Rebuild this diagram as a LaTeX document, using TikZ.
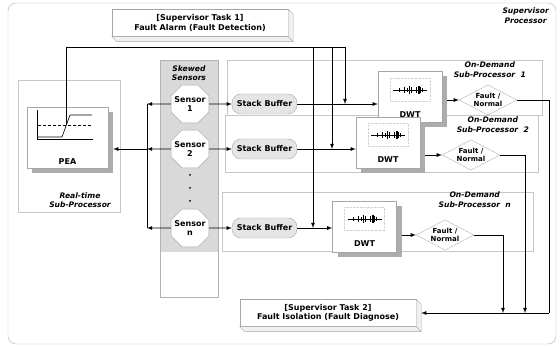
\documentclass[tikz,border=0pt]{standalone}
\usepackage{fontspec}
\setmainfont{DejaVu Sans}
\usetikzlibrary{positioning,shapes.geometric,shadows,calc}
\tikzset{
  task/.style={rectangle, draw=gray!70, fill=white, minimum width=176pt, minimum height=27pt, inner sep=1pt, align=center},
  subproc/.style={rectangle, draw=gray!45, inner sep=0pt, outer sep=0pt},
  sensor/.style={regular polygon, regular polygon sides=8, draw=gray!70, fill=white, minimum size=41pt, inner sep=-4pt, align=center},
  buffer/.style={rectangle, rounded corners=9pt, draw=gray!70, fill=gray!20, minimum width=65pt, minimum height=20pt, inner sep=1pt},
  dwtbox/.style={rectangle, draw=gray!70, fill=white, minimum width=64pt, minimum height=51pt,
    drop shadow={shadow xshift=5pt, shadow yshift=-5pt, fill=gray!65, opacity=1}},
  decide/.style={diamond, aspect=1.9, draw=gray!60, fill=white, inner sep=0.8pt, align=center,
    font=\bfseries\fontsize{7}{7.5}\selectfont},
  tag/.style={font=\bfseries\itshape\fontsize{7.6}{9.6}\selectfont, align=center, inner sep=0pt},
}

\begin{document}
\begin{tikzpicture}[x=1pt, y=-1pt, >=latex,
  font=\bfseries\fontsize{8}{9.4}\selectfont]
  \useasboundingbox (0,0) rectangle (560,347);
  \draw[gray!60, rounded corners=8pt] (8,3) rectangle (556,344);

  % frames behind everything
  \node[subproc, minimum width=102pt, minimum height=132pt] (rtp) at (69,146) {};
  \fill[gray!30] (160,60) rectangle (218,252);
  \node[subproc, draw=gray!60, minimum width=58pt, minimum height=237pt] (col) at (189,178.5) {};
  \node[subproc, minimum width=315pt, minimum height=55pt] (sp1) at (384.5,87.5) {};
  \node[subproc, minimum width=313pt, minimum height=57pt] (sp2) at (381.5,143.5) {};
  \node[subproc, minimum width=311pt, minimum height=59pt] (spn) at (377.5,221.5) {};

  \node[tag, anchor=north east] (suplbl) at (549,8) {Supervisor\\Processor};
  \node[tag] (rtlbl) at (80,200) {Real-time\\Sub-Processor};
  \node[tag] (sklbl) at (189,73) {Skewed\\Sensors};
  \node[tag, anchor=north east] (sp1lbl) at (526,62) {On-Demand\\Sub-Processor~~1};
  \node[tag, anchor=north east] (sp2lbl) at (529,117) {On-Demand\\Sub-Processor~~2};
  \node[tag, anchor=north east] (spnlbl) at (511,192) {On-Demand\\Sub-Processor~~n};

  % supervisor tasks
  \node[task] (t1) at (200,23) {[Supervisor Task 1]\\Fault Alarm (Fault Detection)};
  \node[task] (t2) at (328,313) {[Supervisor Task 2]\\Fault Isolation (Fault Diagnose)};
  \foreach \t in {t1,t2}{
    \draw[gray!70, fill=gray!12] (\t.north east) -- ++(5,5) -- ($(\t.south east)+(5,5)$)
      -- ($(\t.south west)+(5,5)$) -- (\t.south west) -- (\t.south east) -- cycle;
    \draw[gray!70] (\t.south east) -- ++(5,5);
  }

  % PEA
  \node[dwtbox, minimum width=81pt, minimum height=61pt,
    label={[label distance=-13.5pt]south:PEA}] (pea) at (67.5,137.5) {};
  \draw[thin] (37,110) -- (37,139) -- (93,139);
  \draw[thin, densely dashed] (38,125) -- (92,125);
  \draw[semithick] (38,137) -- (62,137) -- coordinate[pos=0.6] (pk) (70,115) -- (92,115);

  % sensors
  \node[sensor] (s1) at (190,104) {Sensor\\1};
  \node[sensor] (s2) at (190,149) {Sensor\\2};
  \node[sensor] (sn) at (190,228) {Sensor\\n};
  \foreach \y in {175,188,201} \fill (190,\y) circle (1pt);

  \node[buffer] (b1) at (264.5,104) {Stack Buffer};
  \node[buffer] (b2) at (264.5,149) {Stack Buffer};
  \node[buffer] (bn) at (264.5,228) {Stack Buffer};

  \node[dwtbox, label={[label distance=-15pt]south:DWT}] (d1) at (410,97) {};
  \node[dwtbox, label={[label distance=-15pt]south:DWT}] (d2) at (388,142.5) {};
  \node[dwtbox, label={[label distance=-15pt]south:DWT}] (dn) at (364.5,226.5) {};
  \foreach \d in {d1,d2,dn}{
    \draw[gray!35, densely dotted] ($(\d.center)+(-20,-19)$) rectangle ($(\d.center)+(20,4)$);
    \draw[semithick] ($(\d.center)+(-17,-7)$) -- ($(\d.center)+(17,-7)$);
    \foreach \u/\h in {-11/2,-6/3,-3/2,-1/4,1/3,6/3,8/4,9/4,10/3,12/2}
      \draw ($(\d.center)+(\u,-7-\h)$) -- ($(\d.center)+(\u,-7+\h)$);
  }

  \node[decide] (fn1) at (488,100) {Fault /\\Normal};
  \node[decide] (fn2) at (471,155) {Fault /\\Normal};
  \node[decide] (fnn) at (445,235) {Fault /\\Normal};

  % sensors to PEA
  \coordinate (bus1) at (147,104);
  \coordinate (bus2) at (147,149);
  \coordinate (busn) at (147,228);
  \draw[thick] (bus1) -- (busn);
  \draw[thick, ->] (s1) -- (bus1);
  \draw[thick, ->] (s2) -- (bus2);
  \draw[thick, ->] (sn) -- (busn);
  \draw[thick, ->] (bus2) -- ($(pea.east |- bus2)+(5,0)$);

  % on-demand rows
  \draw[thick, ->] (s1) -- (b1);
  \draw[thick, ->] (s2) -- (b2);
  \draw[thick, ->] (sn) -- (bn);
  \draw[thick, ->] (b1) -- (b1 -| d1.west);
  \draw[thick, ->] (b2) -- (b2 -| d2.west);
  \draw[thick, ->] (bn) -- (bn -| dn.west);
  \draw[thick, ->] ($(d1.east |- fn1.west)+(5,0)$) -- (fn1.west);
  \draw[thick, ->] ($(d2.east |- fn2.west)+(5,0)$) -- (fn2.west);
  \draw[thick, ->] ($(dn.east |- fnn.west)+(5,0)$) -- (fnn.west);

  % alarm from PEA
  \coordinate (tp1) at (345,47);
  \coordinate (tp2) at (332,47);
  \coordinate (tpn) at (313,47);
  \draw[thick] (pk) |- (tp1);
  \draw[thick, ->] (tp1) -- (tp1 |- b1.east);
  \draw[thick, ->] (tp2) -- (tp2 |- b2.east);
  \draw[thick, ->] (tpn) -- (tpn |- bn.east);

  % results to task 2
  \coordinate (o1) at (549,313);
  \coordinate (o2) at (525,313);
  \coordinate (on) at (503,313);
  \draw[thick] (fn1.east) -| (o1);
  \draw[thick, ->] (o1) -- ($(t2.east)+(5,0)$);
  \draw[thick, ->] (fn2.east) -| (o2);
  \draw[thick, ->] (fnn.east) -| (on);
\end{tikzpicture}
\end{document}
